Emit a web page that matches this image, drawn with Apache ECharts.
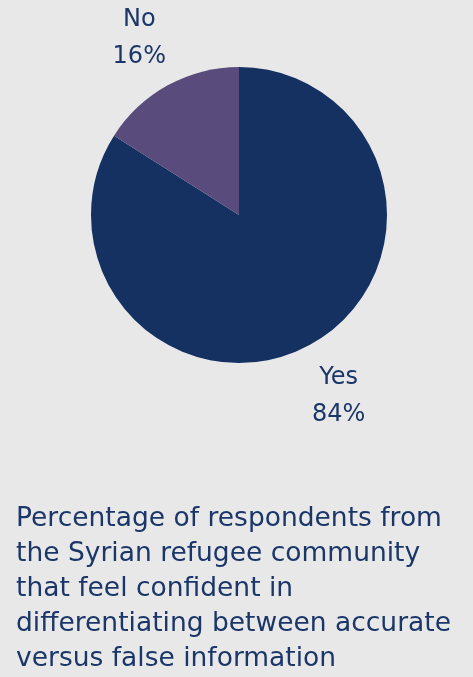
<!DOCTYPE html>
<html>
<head>
<meta charset="utf-8">
<script src="https://cdn.jsdelivr.net/npm/echarts@6/dist/echarts.min.js"></script>
<style>
html,body{margin:0;padding:0;background:#e8e8e8;}
#c{width:473px;height:677px;}
</style>
</head>
<body>
<div id="c"></div>
<script>
const categories = ["Yes", "No"];
const values = [84, 16];
const colors = ["#143161", "#5a4b7d"];
const titleLines = [
  "Percentage of respondents from",
  "the Syrian refugee community",
  "that feel confident in",
  "differentiating between accurate",
  "versus false information"
];

const labelOffsets = [[0, 0], [0, 5]];
const chart = echarts.init(document.getElementById('c'), null, {renderer: 'canvas'});
const data = categories.map((c, i) => ({name: c, value: values[i], itemStyle: {color: colors[i]}}));
chart.setOption({
  backgroundColor: '#e8e8e8',
  animation: false,
  title: {
    text: titleLines.join('\n'),
    left: 11,
    top: 497,
    textStyle: {
      fontFamily: 'DejaVu Sans',
      fontSize: 26.5,
      fontWeight: 'normal',
      color: '#1b3668',
      lineHeight: 35
    }
  },
  series: [
    {
      type: 'pie',
      center: [239, 215],
      radius: [0, 148],
      startAngle: 90,
      clockwise: true,
      silent: true,
      label: {show: false},
      labelLine: {show: false},
      data: data
    },
    {
      type: 'pie',
      center: [239, 215],
      radius: [182, 226],
      startAngle: 90,
      clockwise: true,
      silent: true,
      itemStyle: {color: 'rgba(0,0,0,0)'},
      label: {
        show: true,
        position: 'inside',
        formatter: p => p.name + '\n' + p.value + '%',
        fontFamily: 'DejaVu Sans',
        fontSize: 24,
        color: '#1b3668',
        lineHeight: 37
      },
      labelLine: {show: false},
      data: categories.map((c, i) => ({name: c, value: values[i], itemStyle: {color: 'rgba(0,0,0,0)'}, label: {offset: labelOffsets[i]}}))
    }
  ]
});
</script>
</body>
</html>
